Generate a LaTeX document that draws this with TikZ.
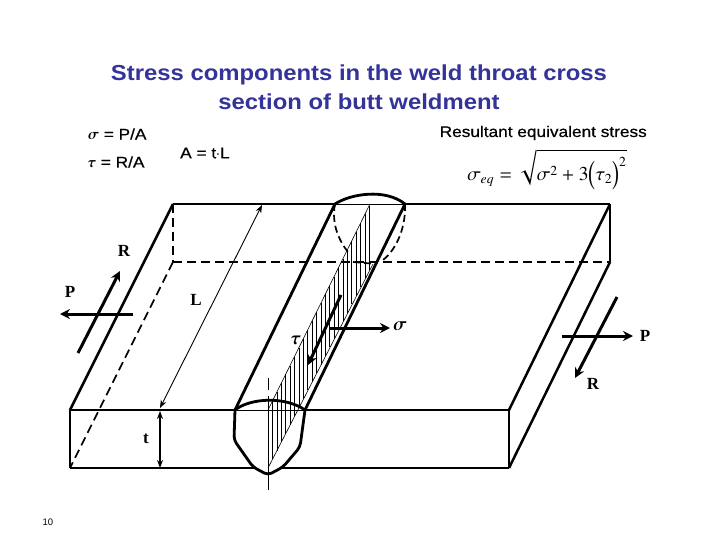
\documentclass[tikz,border=0pt]{standalone}
\usepackage{amsmath,txfonts}
\usepackage{fontspec}
\setmainfont{Liberation Sans}
\newfontfamily\serifbold{Liberation Serif}
\newfontfamily\widesans[FakeStretch=1.12,FakeBold=0.6]{Liberation Sans}
\newfontfamily\widetitle[FakeStretch=1.1]{Liberation Sans Bold}
\usetikzlibrary{arrows.meta}
\definecolor{titleblue}{RGB}{51,51,153}
\tikzset{
  plate/.style={line width=1.9pt},
  hidden/.style={line width=1.6pt,dash pattern=on 9pt off 5pt},
  seam/.style={line width=2.8pt,line join=round},
  fine/.style={line width=0.6pt},
  force/.style={line width=3pt,-{Stealth[length=10pt,width=10pt]}},
  dimline/.style={line width=0.9pt,{Stealth[length=8pt,width=6pt]}-{Stealth[length=8pt,width=6pt]}},
  letter/.style={inner sep=0pt,font=\serifbold\bfseries\fontsize{17}{17}\selectfont},
  lettersym/.style={inner sep=0pt,font=\bfseries\fontsize{19}{19}\selectfont},
  caption/.style={inner sep=0pt,anchor=west,font=\widesans\fontsize{15.4}{17}\selectfont},
}
\begin{document}
\begin{tikzpicture}[x=1pt,y=-1pt]
  \useasboundingbox (0,0) rectangle (720,540);
  \fill[white] (0,0) rectangle (720,540);

  \coordinate (backl) at (173,204);
  \coordinate (backr) at (610,204);
  \coordinate (lowl) at (173,262);
  \coordinate (lowr) at (610,262);
  \coordinate (frontl) at (70,410);
  \coordinate (frontr) at (509,410);
  \coordinate (basel) at (70,468);
  \coordinate (baser) at (509,468);
  \coordinate (seamtl) at (335,204);
  \coordinate (seamtr) at (405,204);
  \coordinate (seamfl) at (235,410);
  \coordinate (seamfr) at (305,410);
  \coordinate (axistop) at (268,410);
  \coordinate (axisbot) at (268,468);
  \coordinate (axisback) at (370,204);
  \coordinate (rootback) at (373,264);

  \begin{scope}[hidden]
  \draw (backl) -- (lowl);
  \draw (lowl) -- (lowr);
  \draw (lowl) -- (basel);
  \end{scope}

  \begin{scope}[plate]
  \draw (backl) -- (seamtl);
  \draw (seamtr) -- (backr);
  \draw[line width=2.5pt] (backl) -- (frontl);
  \draw (frontl) -- (seamfl);
  \draw (seamfr) -- (frontr);
  \draw[line width=2.5pt] (backr) -- (frontr);
  \draw (backr) -- (lowr);
  \draw[line width=2.5pt] (lowr) -- (baser);
  \draw (frontr) -- (baser);
  \draw (frontl) -- (basel);
  \draw (basel) -- (255,468);
  \draw (282,468) -- (baser);
  \end{scope}

  \begin{scope}[fine]
  \draw (seamtl) -- (seamtr);
  \draw (seamfl) -- (seamfr);
  \draw (axistop) -- (axisback);
  \draw (axisbot) -- (rootback);
  \foreach \hx in {0,1,...,23} {
    \draw ({268+4.4*\hx},{410-2.02*4.4*\hx}) -- ({268+4.4*\hx},{468-1.96*4.4*\hx});
  }
  \draw[dash pattern=on 12pt off 6pt on 94pt] (268.5,378) -- (268.5,490);
  \end{scope}

  \begin{scope}[seam]
  \draw (seamtl) -- (seamfl);
  \draw (seamtr) -- (seamfr);
  \draw (seamtl) .. controls (350,194) and (385,188) .. (seamtr);
  \draw (seamfl) .. controls (250,398) and (285,396) .. (seamfr);
  \draw[rounded corners=4pt] (seamfl) -- (234,440) -- (253,467) -- (268,475) -- (283,467)
    -- (300,447) -- (seamfr);
  \draw[line width=1.7pt,dash pattern=on 7pt off 4pt] (seamtl) .. controls (331,225) and (340,242) .. (348,252);
  \draw[line width=1.7pt,dash pattern=on 7pt off 4pt] (353,262) -- (377,264);
  \draw[line width=1.7pt,dash pattern=on 7pt off 4pt] (seamtr) .. controls (406,225) and (398,248) .. (383,260);
  \end{scope}

  \coordinate (Lbot) at (160,408);
  \coordinate (Ltop) at (262,205);
  \draw[dimline] (Lbot) -- (Ltop);
  \coordinate (ttop) at (160,411);
  \coordinate (tbot) at (160,468);
  \draw[dimline,line width=1.5pt] (ttop) -- (tbot);

  \coordinate (pleftfrom) at (133,314);
  \coordinate (pleftto) at (60,314);
  \draw[force] (pleftfrom) -- (pleftto);
  \coordinate (rleftfrom) at (78,353);
  \coordinate (rleftto) at (120,271);
  \draw[force] (rleftfrom) -- (rleftto);
  \coordinate (tauupper) at (341,295);
  \coordinate (taulower) at (308,365);
  \draw[force] (tauupper) -- (taulower);
  \coordinate (sigfrom) at (330,328);
  \coordinate (sigto) at (390,328);
  \draw[force] (sigfrom) -- (sigto);
  \coordinate (prightfrom) at (562,336);
  \coordinate (prightto) at (633,336);
  \draw[force] (prightfrom) -- (prightto);
  \coordinate (rrightfrom) at (617,297);
  \coordinate (rrightto) at (575,378);
  \draw[force] (rrightfrom) -- (rrightto);

  \node[letter] (labelRl) at (124,251) {R};
  \node[letter] (labelPl) at (70,292) {P};
  \node[letter] (labelL) at (196,300) {L};
  \node[letter] (labelt) at (146,439) {t};
  \node[letter] (labelPr) at (645,336) {P};
  \node[letter] (labelRr) at (593,384) {R};
  \node[lettersym] (labeltau) at (296,340) {$\boldsymbol{\tau}$};
  \node[lettersym] (labelsig) at (400,326) {$\boldsymbol{\sigma}$};

  \node[inner sep=0pt,align=center,text=titleblue,font=\widetitle\fontsize{21.7}{29}\selectfont] (title) at (359,87)
    {Stress components in the weld throat cross\\section of butt weldment};
  \node[caption] (sigeq) at (88,134) {$\boldsymbol{\sigma}$ = P/A};
  \node[caption] (taueq) at (88,162) {$\boldsymbol{\tau}$ = R/A};
  \node[caption] (areaeq) at (180,153) {A = t$\cdot$L};
  \node[caption,anchor=east] (resultant) at (647,133) {Resultant equivalent stress};
  \node[inner sep=0pt,anchor=base,font=\fontsize{19.6}{20}\selectfont] (formula) at (547,181)
    {$\sigma_{eq}=\sqrt{\rule{0pt}{24pt}\sigma^{2}+3\smash{\Bigl(\tau_{2}\Bigr)^{2}}}$};
  \node[inner sep=0pt,font=\fontsize{9.5}{10}\selectfont] (pagenum) at (48,522) {10};
\end{tikzpicture}
\end{document}
